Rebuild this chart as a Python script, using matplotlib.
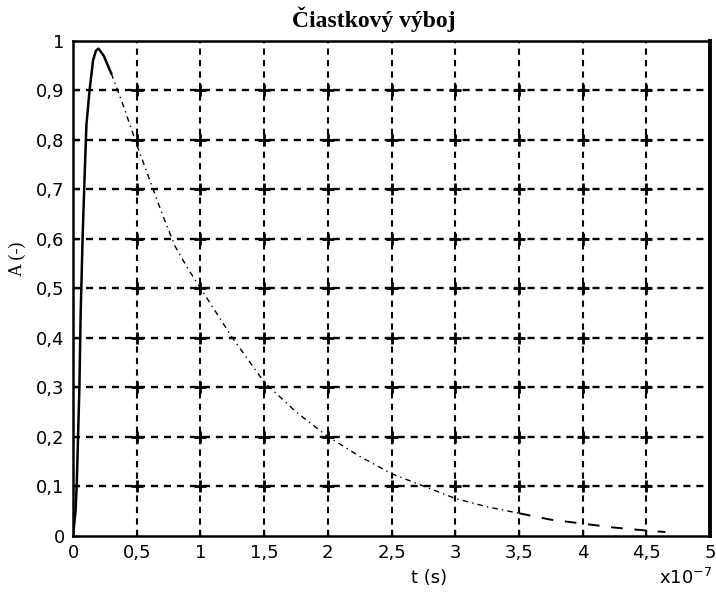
import numpy as np
import matplotlib
matplotlib.use('Agg')
import matplotlib.pyplot as plt

# cas v jednotkach 1e-7 s, amplituda normovana
t = [0, 0.02, 0.03, 0.05, 0.06, 0.075, 0.09, 0.105, 0.13, 0.157, 0.18, 0.2,
     0.24, 0.3, 0.35, 0.4, 0.5, 0.6, 0.7, 0.8, 0.9, 1.0, 1.1, 1.25, 1.5,
     1.75, 2.0, 2.25, 2.5, 2.75, 3.0, 3.25, 3.5, 3.75, 4.0, 4.25, 4.5, 4.65]
a = [0, 0.05, 0.11, 0.3, 0.45, 0.6, 0.72, 0.83, 0.9, 0.96, 0.98, 0.984,
     0.97, 0.934, 0.9, 0.865, 0.79, 0.72, 0.65, 0.585, 0.54, 0.5, 0.46, 0.4, 0.31,
     0.25, 0.2, 0.16, 0.125, 0.1, 0.075, 0.058, 0.045, 0.032, 0.024, 0.016, 0.01, 0.007]

x_ticks = [0, 0.5, 1, 1.5, 2, 2.5, 3, 3.5, 4, 4.5, 5]
y_ticks = [0, 0.1, 0.2, 0.3, 0.4, 0.5, 0.6, 0.7, 0.8, 0.9, 1]

def comma(v):
    s = ('%g' % v)
    return s.replace('.', ',')

fig = plt.figure(figsize=(7.16, 5.99), dpi=100)
ax = fig.add_axes([0.102, 0.106, 0.8896, 0.826])

ax.set_xlim(0, 5)
ax.set_ylim(0, 1)

# mriezka s krizikmi
for xv in x_ticks[1:-1]:
    ax.axvline(xv, color='black', lw=1.5, ls=(0, (3, 2.5)), zorder=1)
for yv in y_ticks[1:-1]:
    ax.axhline(yv, color='black', lw=1.7, ls=(0, (3, 2.5)), zorder=1)
gx, gy = np.meshgrid(x_ticks[1:-1], y_ticks[1:-1])
ax.plot(gx.ravel(), gy.ravel(), '+', color='black', ms=9, mew=2, zorder=2)

t = np.array(t)
a = np.array(a)
i1 = np.searchsorted(t, 0.3)
i2 = np.searchsorted(t, 3.5)
ax.plot(t[:i1 + 1], a[:i1 + 1], color='black', lw=1.8, zorder=3)
ax.plot(t[i1:i2 + 1], a[i1:i2 + 1], color='black', lw=1.0,
        ls=(0, (4, 3, 1, 3)), zorder=3)
ax.plot(t[i2:], a[i2:], color='black', lw=1.4, ls=(0, (6, 6)), zorder=3)

ax.set_xticks(x_ticks)
ax.set_yticks(y_ticks)
ax.set_xticklabels([comma(v) for v in x_ticks])
ax.set_yticklabels([comma(v) for v in y_ticks])
ax.tick_params(direction='in', length=4, width=1, labelsize=13, pad=6)
for lab in ax.get_xticklabels() + ax.get_yticklabels():
    lab.set_family('DejaVu Sans')

for s in ax.spines.values():
    s.set_linewidth(1.8)
ax.spines['right'].set_linewidth(2.8)

fig.text(0.522, 0.968, 'Čiastkový výboj', ha='center', va='center',
         fontsize=17, fontweight='bold', family='Liberation Serif')
fig.text(0.599, 0.035, 't (s)', ha='center', va='center',
         fontsize=13, family='DejaVu Sans')
fig.text(0.024, 0.568, 'A (-)', ha='center', va='center', rotation=90,
         fontsize=13, family='Liberation Serif')
fig.text(0.995, 0.035, r'x10$^{\mathregular{-7}}$', ha='right', va='center',
         fontsize=13, family='DejaVu Sans')

fig.savefig('out.png', dpi=100)
